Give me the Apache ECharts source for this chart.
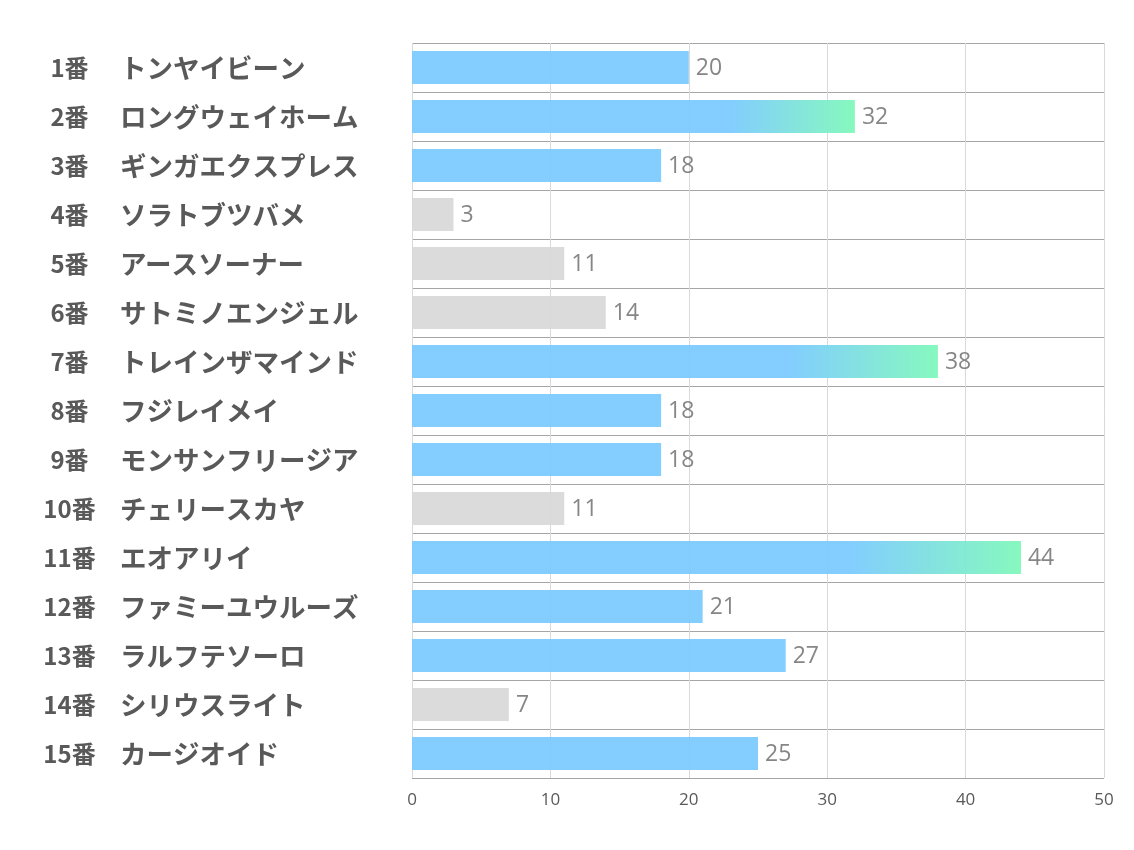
<!DOCTYPE html>
<html><head><meta charset="utf-8">
<script src="https://cdn.jsdelivr.net/npm/echarts@6/dist/echarts.min.js"></script>
<style>html,body{margin:0;padding:0;background:#fff}#c{width:1134px;height:850px}</style>
</head><body><div id="c"></div>
<script>
const numbers = ['1番','2番','3番','4番','5番','6番','7番','8番','9番','10番','11番','12番','13番','14番','15番'];
const horses = ['トンヤイビーン','ロングウェイホーム','ギンガエクスプレス','ソラトブツバメ','アースソーナー','サトミノエンジェル','トレインザマインド','フジレイメイ','モンサンフリージア','チェリースカヤ','エオアリイ','ファミーユウルーズ','ラルフテソーロ','シリウスライト','カージオイド'];
const values = [20,32,18,3,11,14,38,18,18,11,44,21,27,7,25];
const xTicks = [0,10,20,30,40,50];

const BLUE = '#7ccbfe', GREEN = '#80f8bb', GRAY = '#d9d9d9';
const sorted = values.slice().sort((a,b)=>b-a);
const topThreshold = sorted[2];
const cats = numbers.map((n,i)=>n+'|'+horses[i]);
const data = values.map(v=>{
  let color;
  if (v >= topThreshold) {
    color = new echarts.graphic.LinearGradient(0,0,1,0,[{offset:0,color:BLUE},{offset:0.72,color:BLUE},{offset:1,color:GREEN}]);
  } else if (v < 15) color = GRAY; else color = BLUE;
  return {value:v, itemStyle:{color:color}};
});

const chart = echarts.init(document.getElementById('c'));
chart.setOption({
  animation:false,
  backgroundColor:'#fff',
  grid:{left:412,right:30,top:43,bottom:72,containLabel:false},
  xAxis:{type:'value',min:xTicks[0],max:xTicks[xTicks.length-1],interval:10,
    axisLine:{show:false},axisTick:{show:false},
    axisLabel:{color:'#595959',fontSize:17,margin:14,fontFamily:'"Open Sans","Noto Sans",sans-serif'},
    splitLine:{show:true,lineStyle:{color:'#d9d9d9',width:1}}},
  yAxis:{type:'category',data:cats,inverse:true,
    axisLine:{show:false},axisTick:{show:false},
    splitLine:{show:true,lineStyle:{color:'#a6a6a6',width:1}},
    axisLabel:{margin:372,align:'left',
      formatter:function(v){const p=v.split('|');return '{n|'+p[0]+'}{s|'+p[1]+'}';},
      rich:{
        n:{width:59,align:'right',fontSize:24,fontWeight:'bold',color:'#595959',fontFamily:'"Noto Sans CJK JP",sans-serif'},
        s:{padding:[0,0,0,21],fontSize:26.5,fontWeight:'bold',color:'#595959',fontFamily:'"Noto Sans CJK JP",sans-serif'}
      }}},
  series:[{type:'bar',data:data,barWidth:'67%',itemStyle:{opacity:0.95},
    label:{show:true,position:'right',distance:7,offset:[0,1],color:'#7f7f7f',fontSize:23,fontFamily:'"Open Sans","Noto Sans",sans-serif'}}]
});
</script></body></html>
